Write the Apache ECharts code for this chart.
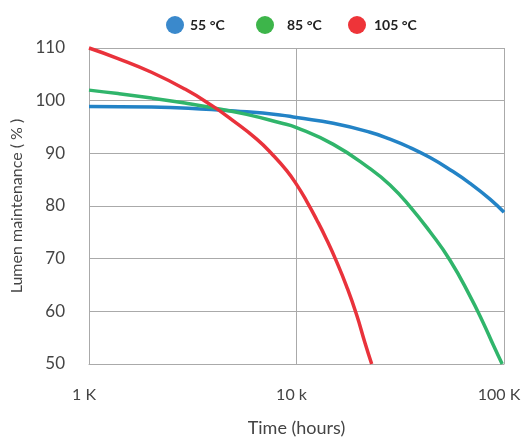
<!DOCTYPE html>
<html>
<head>
<meta charset="utf-8">
<script src="https://cdn.jsdelivr.net/npm/echarts@6/dist/echarts.min.js"></script>
<style>
html,body{margin:0;padding:0;background:#fff;}
#chart{width:523px;height:437px;}
</style>
</head>
<body>
<div id="chart"></div>
<script>
const seriesNames = ['55 °C', '85 °C', '105 °C'];
const xTickValues = [1000, 10000, 100000];
const xTickLabels = ['1 K', '10 k', '100 K'];

const blueHours = [1000, 2000, 3900, 5050, 8330, 10000, 15040, 22610, 28220, 35240, 43990, 54930, 68580, 85590, 100000];
const blueValues = [98.9, 98.8, 98.3, 98.05, 97.3, 96.8, 95.7, 94.0, 92.7, 91.1, 89.2, 86.9, 84.3, 81.3, 78.8];

const greenHours = [1000, 1380, 2000, 2900, 3900, 5750, 8330, 10000, 15040, 22610, 28220, 35240, 43990, 54930, 68580, 79470, 88800, 98000];
const greenValues = [102.0, 101.35, 100.5, 99.55, 98.7, 97.4, 95.8, 94.9, 91.7, 87.1, 84.0, 79.9, 75.1, 69.7, 62.9, 57.8, 53.6, 50.0];

const redHours = [1000, 1380, 2000, 2900, 3900, 4870, 6430, 7730, 8970, 10000, 11200, 12510, 13980, 15620, 17450, 19500, 21390, 23030];
const redValues = [110.0, 108.0, 105.4, 102.2, 99.1, 96.4, 92.7, 89.6, 86.7, 84.1, 80.9, 77.4, 73.6, 69.4, 64.7, 59.3, 54.0, 50.0];

const lineColors = ['#2383c6', '#30b56b', '#e9323b'];
const legendColors = ['#3a89cc', '#3db54a', '#ee3439'];

function pairs(h, v) { return h.map((x, i) => [x, v[i]]); }
const allData = [pairs(blueHours, blueValues), pairs(greenHours, greenValues), pairs(redHours, redValues)];

const chart = echarts.init(document.getElementById('chart'), null, {renderer: 'canvas'});
const font = 'Lato, "Noto Sans", sans-serif';
const legendLefts = [166, 256, 348];
const legendTextPad = [1, 8, 3];
chart.setOption({
  animation: false,
  textStyle: {fontFamily: font},
  legend: seriesNames.map((n, i) => ({
    top: 16,
    left: legendLefts[i],
    padding: 0,
    icon: 'circle',
    itemWidth: 18,
    itemHeight: 18,
    selectedMode: false,
    textStyle: {fontSize: 14, fontWeight: 'bold', color: '#222', fontFamily: font, padding: [0, 0, 0, legendTextPad[i]]},
    data: [{name: n, itemStyle: {color: legendColors[i]}}]
  })),
  grid: {left: 89, right: 19, top: 48, bottom: 73, outerBoundsMode: 'none', containLabel: false},
  xAxis: {
    type: 'log',
    logBase: 10,
    min: 1000,
    max: 100000,
    name: 'Time (hours)',
    nameLocation: 'middle',
    nameGap: 55,
    nameTextStyle: {fontSize: 18, color: '#444', fontFamily: font},
    axisLine: {show: true, lineStyle: {color: '#aaa', width: 1}},
    axisTick: {show: false},
    splitLine: {show: true, lineStyle: {color: '#aaa', width: 1}},
    axisLabel: {
      margin: 23,
      fontSize: 16,
      color: '#444',
      fontFamily: font,
      padding: [0, 10, 0, 0],
      formatter: function (v) {
        const i = xTickValues.findIndex(t => Math.abs(t - v) < 1);
        return i >= 0 ? xTickLabels[i] : '';
      }
    }
  },
  yAxis: {
    type: 'value',
    min: 50,
    max: 110,
    interval: 10,
    name: 'Lumen maintenance ( % )',
    nameLocation: 'middle',
    nameGap: 62,
    nameTextStyle: {fontSize: 16, color: '#444', fontFamily: font},
    axisLine: {show: true, lineStyle: {color: '#aaa', width: 1}},
    axisTick: {show: false},
    splitLine: {show: true, lineStyle: {color: '#aaa', width: 1}},
    axisLabel: {margin: 24, fontSize: 17, color: '#444', fontFamily: font}
  },
  series: seriesNames.map((n, i) => ({
    name: n,
    type: 'line',
    data: allData[i],
    smooth: true,
    symbol: 'none',
    clip: false,
    itemStyle: {color: lineColors[i]},
    lineStyle: {color: lineColors[i], width: 3.5}
  }))
});
</script>
</body>
</html>
